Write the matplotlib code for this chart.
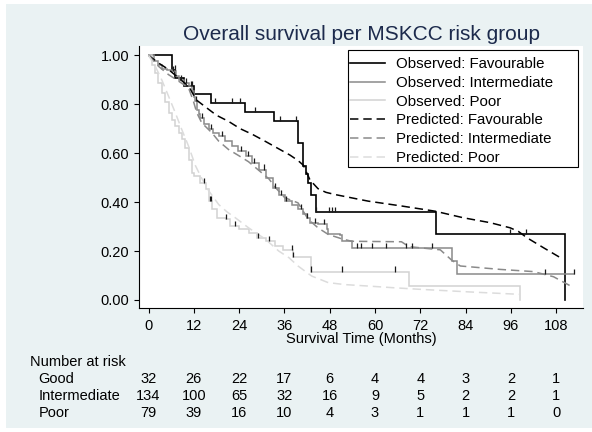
import numpy as np
import matplotlib
matplotlib.use('Agg')
import matplotlib.pyplot as plt
from matplotlib.lines import Line2D
from matplotlib.patches import Rectangle
from matplotlib.transforms import blended_transform_factory

plt.rcParams['font.family'] = ['Liberation Sans', 'DejaVu Sans']

# Kaplan-Meier estimates (months, survival after each event)
fav_t = [0, 6.2, 7.1, 9.3, 12.0, 16.6, 25.5, 33.2, 39.5, 41.0, 41.6, 42.3, 43.0, 44.3, 76.2, 110.2]
fav_s = [1.0, 0.938, 0.906, 0.875, 0.84, 0.805, 0.769, 0.73, 0.64, 0.547, 0.515, 0.48, 0.43, 0.36, 0.27, 0.0]
fav_end = 110.2
fav_cens = [6.9, 11.5, 17.7, 22.1, 24.3, 28.3, 34.8, 39.2, 44.3, 47.7, 48.6, 49.5, 95.7, 100.1]

int_t = [0, 1.5, 2.6, 3.5, 5.0, 6.2, 7.2, 8.0, 9.3, 10.6, 11.5, 12.0, 12.4, 12.8, 13.3, 13.7, 14.6,
         15.9, 17.2, 18.6, 20.3, 22.1, 23.8, 25.7, 27.4, 29.2, 31.0, 33.0, 34.6, 36.1, 37.9, 39.6,
         41.0, 41.9, 42.7, 44.9, 47.2, 47.6, 50.7, 51.2, 53.8, 80.3, 81.7]
int_s = [1.0, 0.978, 0.962, 0.944, 0.94, 0.935, 0.915, 0.90, 0.885, 0.873, 0.853, 0.83, 0.812, 0.778,
         0.76, 0.744, 0.72, 0.697, 0.683, 0.669, 0.65, 0.629, 0.61, 0.588, 0.56, 0.533, 0.499, 0.456,
         0.43, 0.404, 0.39, 0.37, 0.35, 0.336, 0.316, 0.309, 0.289, 0.268, 0.264, 0.241, 0.211, 0.158, 0.105]
int_end = 112.6
int_cens = [6.6, 8.5, 10.0, 11.2, 12.6, 14.2, 16.5, 19.5, 24.5, 26.3, 28.0, 30.5, 33.5, 35.0, 36.3,
            40.5, 41.9, 44.0, 46.5, 55.1, 56.3, 59.3, 63.0, 68.2, 69.7, 75.0, 105.1, 112.6]

poor_t = [0, 0.8, 1.8, 2.6, 3.5, 4.4, 5.3, 6.2, 7.1, 8.0, 8.8, 9.7, 10.6, 11.5, 12.0, 13.7, 15.1,
          15.9, 16.8, 18.1, 20.4, 21.7, 23.9, 26.5, 28.8, 31.0, 33.6, 35.5, 38.3, 43.0, 69.0, 98.5]
poor_s = [1.0, 0.962, 0.928, 0.886, 0.846, 0.81, 0.765, 0.734, 0.71, 0.684, 0.656, 0.62, 0.574, 0.52,
          0.506, 0.479, 0.452, 0.404, 0.37, 0.336, 0.329, 0.302, 0.289, 0.275, 0.254, 0.241, 0.22,
          0.205, 0.175, 0.116, 0.058, 0.0]
poor_end = 98.5
poor_cens = [14.6, 16.2, 16.6, 20.4, 22.8, 29.0, 31.9, 37.9, 38.3, 43.0, 51.2, 65.3]

# model-predicted mean survival
pfav_t = [0, 2.6, 5.3, 8.0, 10.6, 12.8, 15.0, 18.0, 21.2, 24.3, 27.5, 30.4, 34.0, 37.5, 39.6, 41.0,
          42.8, 44.9, 47.0, 49.4, 58.2, 67.1, 75.9, 83.4, 90.5, 95.8, 98.0, 100.3, 104.7, 109.1]
pfav_s = [1.0, 0.969, 0.942, 0.907, 0.873, 0.816, 0.79, 0.755, 0.73, 0.70, 0.677, 0.653, 0.622, 0.592,
          0.57, 0.551, 0.49, 0.455, 0.44, 0.431, 0.404, 0.384, 0.363, 0.336, 0.316, 0.295, 0.28, 0.254,
          0.213, 0.173]

pint_t = [0, 2.65, 5.3, 8.0, 10.6, 11.9, 12.8, 14.1, 16.8, 18.6, 21.2, 23.9, 26.5, 29.2, 31.9, 33.6,
          36.1, 39.6, 42.3, 44.9, 47.6, 51.2, 53.8, 67.0, 69.0, 77.3, 80.3, 82.6, 93.2, 102.0, 107.3, 112.2]
pint_s = [1.0, 0.955, 0.921, 0.894, 0.867, 0.812, 0.765, 0.724, 0.683, 0.649, 0.615, 0.59, 0.565, 0.53,
          0.495, 0.46, 0.418, 0.397, 0.33, 0.295, 0.268, 0.25, 0.24, 0.238, 0.218, 0.205, 0.163, 0.139,
          0.125, 0.116, 0.095, 0.054]

ppoor_t = [0, 1.8, 3.5, 5.3, 7.1, 8.8, 10.6, 12.4, 14.0, 16.0, 18.6, 20.8, 23.0, 26.5, 31.0, 34.5,
           37.2, 39.6, 43.2, 47.6, 52.0, 58.2, 65.0, 71.5, 85.0, 98.5]
ppoor_s = [1.0, 0.955, 0.90, 0.833, 0.765, 0.697, 0.629, 0.55, 0.50, 0.445, 0.39, 0.36, 0.336, 0.295,
           0.248, 0.2, 0.173, 0.139, 0.098, 0.071, 0.063, 0.057, 0.05, 0.044, 0.033, 0.023]

# number at risk
risk_times = [0, 12, 24, 36, 48, 60, 72, 84, 96, 108]
risk_good = [32, 26, 22, 17, 6, 4, 4, 3, 2, 1]
risk_int = [134, 100, 65, 32, 16, 9, 5, 2, 2, 1]
risk_poor = [79, 39, 16, 10, 4, 3, 1, 1, 1, 0]

C_FAV = 'black'
C_INT = '#8a8a8a'
C_POOR = '#d2d2d2'
C_PPOOR = '#dcdcdc'
BG = '#eaf2f3'
DASH = (5.5, 3.2)

W, H = 592, 432
fig = plt.figure(figsize=(W / 100, H / 100), dpi=100, facecolor='white')
fig.patches.append(Rectangle((6 / W, 4 / H), 1, 424 / H, transform=fig.transFigure,
                             facecolor=BG, edgecolor='none', zorder=-10))

ax = fig.add_axes([139 / W, 1 - 308 / H, (583 - 139) / W, (308 - 46) / H])
ax.set_facecolor('white')


def km_step(times, surv, t_end, color, lw=1.1):
    x = list(times) + [t_end]
    y = list(surv) + [surv[-1]]
    ax.step(x, y, where='post', color=color, lw=lw, solid_joinstyle='miter')


def censor_marks(times, surv, cens):
    idx = np.searchsorted(times, cens, side='right') - 1
    lev = np.asarray(surv)[idx]
    ax.vlines(cens, lev, lev + 0.021, color='#1a1a1a', lw=0.9)


km_step(fav_t, fav_s, fav_end, C_FAV, lw=1.2)
km_step(int_t, int_s, int_end, C_INT)
km_step(poor_t, poor_s, poor_end, C_POOR)

ax.plot(pfav_t, pfav_s, color=C_FAV, lw=1.1, dashes=DASH)
ax.plot(pint_t, pint_s, color=C_INT, lw=1.1, dashes=DASH)
ax.plot(ppoor_t, ppoor_s, color=C_PPOOR, lw=1.1, dashes=DASH)

censor_marks(fav_t, fav_s, fav_cens)
censor_marks(int_t, int_s, int_cens)
censor_marks(poor_t, poor_s, poor_cens)

ax.set_xlim(-2.52, 115.1)
ax.set_ylim(-0.0327, 1.038)
ax.set_xticks(risk_times)
ax.set_yticks(np.arange(0, 1.01, 0.2))
ax.set_yticklabels(['%.2f' % v for v in np.arange(0, 1.01, 0.2)])
ax.tick_params(direction='out', length=5 * 0.72, width=0.8, labelsize=10.5, colors='black')
ax.tick_params(axis='y', pad=3.6)
ax.tick_params(axis='x', pad=4.0)
for side in ['top', 'right']:
    ax.spines[side].set_visible(False)
for side in ['left', 'bottom']:
    ax.spines[side].set_linewidth(0.8)

fig.text(361.3 / W, 1 - 39.5 / H, 'Overall survival per MSKCC risk group', ha='center',
         va='baseline', fontsize=15, color='#1c2a4c')
fig.text(361 / W, 1 - 343 / H, 'Survival Time (Months)', ha='center', va='baseline', fontsize=10.5)

# legend: box drawn separately so it keeps the wide right margin
fig.patches.append(Rectangle((347.7 / W, 1 - 166.7 / H), 230 / W, 116.7 / H,
                             transform=fig.transFigure, facecolor='white', edgecolor='black',
                             lw=0.8, zorder=5))
handles = [
    Line2D([], [], color=C_FAV, lw=1.2),
    Line2D([], [], color=C_INT, lw=1.1),
    Line2D([], [], color=C_POOR, lw=1.1),
    Line2D([], [], color=C_FAV, lw=1.1, dashes=DASH),
    Line2D([], [], color=C_INT, lw=1.1, dashes=DASH),
    Line2D([], [], color=C_PPOOR, lw=1.1, dashes=DASH),
]
labels = ['Observed: Favourable', 'Observed: Intermediate', 'Observed: Poor',
          'Predicted: Favourable', 'Predicted: Intermediate', 'Predicted: Poor']
leg = fig.legend(handles, labels, loc='upper left', bbox_to_anchor=(350 / W, 1 - 57 / H),
                 fontsize=10.8, frameon=False, handlelength=2.35, handletextpad=0.72,
                 labelspacing=0.32, borderpad=0, borderaxespad=0)
leg.set_zorder(6)

# number-at-risk table under the axis
tr = blended_transform_factory(ax.transData, fig.transFigure)
fig.text(30 / W, 1 - 365.7 / H, 'Number at risk', ha='left', va='baseline', fontsize=10.5)
rows = [('Good', risk_good, 382.7), ('Intermediate', risk_int, 400.0), ('Poor', risk_poor, 416.7)]
for name, counts, y in rows:
    fig.text(38.3 / W, 1 - y / H, name, ha='left', va='baseline', fontsize=10.5)
    for t, n in zip(risk_times, counts):
        ax.text(t, 1 - y / H, str(n), transform=tr, ha='center', va='baseline', fontsize=10.5,
                clip_on=False)

fig.savefig('out.png', dpi=100, facecolor=fig.get_facecolor())
